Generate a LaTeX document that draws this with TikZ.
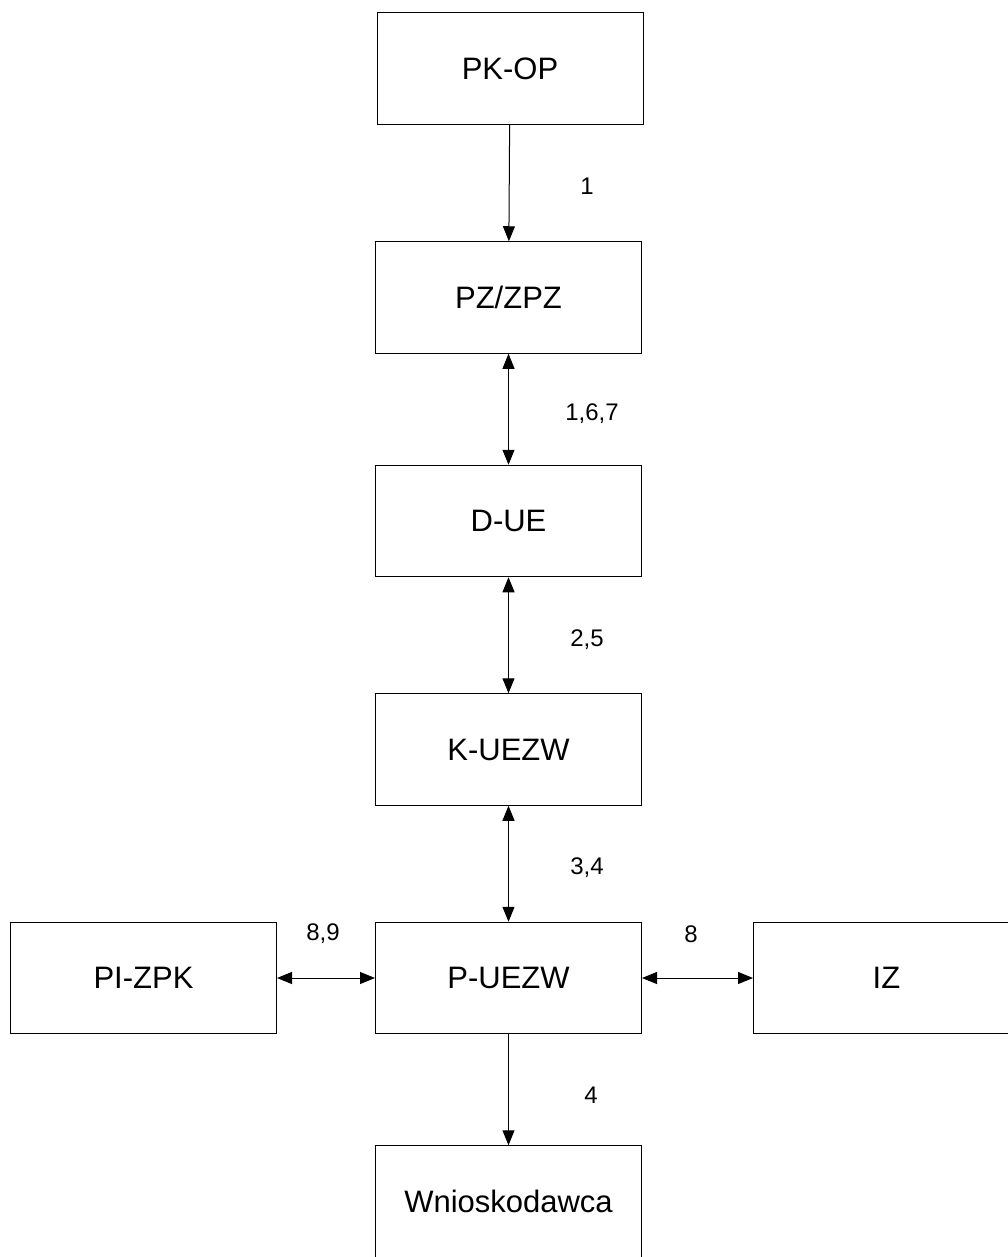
\documentclass[tikz,border=0pt]{standalone}
\usepackage{fontspec}
\setmainfont{Liberation Sans}
\usetikzlibrary{positioning,arrows.meta}

\begin{document}
\begin{tikzpicture}[x=0.5pt,y=-0.5pt,
    box/.style={draw, line width=0.5pt, minimum width=133pt, minimum height=55.75pt,
      inner sep=0pt, font=\fontsize{15.5}{18}\selectfont},
    lbl/.style={font=\fontsize{12}{14}\selectfont},
    link/.style={line width=0.5pt, -{Triangle[length=7.5pt,width=6pt]}},
    both/.style={line width=0.5pt, {Triangle[length=7.5pt,width=6pt]}-{Triangle[length=7.5pt,width=6pt]}}]

  \useasboundingbox (0,0) rectangle (1007,1257);

  \node[box]                          (pkop) at (510,68.5) {PK-OP};
  \node[box, below=58.25pt of pkop, xshift=-0.75pt] (pz) {PZ/ZPZ};
  \node[box, below=55.5pt of pz]      (due)  {D-UE};
  \node[box, below=58pt of due]       (kue)  {K-UEZW};
  \node[box, below=58pt of kue]       (pue)  {P-UEZW};
  \node[box, below=55.5pt of pue]     (wn)   {Wnioskodawca};
  \node[box, left=49pt of pue]        (pi)   {PI-ZPK};
  \node[box, right=55.5pt of pue]     (iz)   {IZ};

  \draw[link] (pkop) -- (pz);
  \draw[both] (pz)   -- (due);
  \draw[both] (due)  -- (kue);
  \draw[both] (kue)  -- (pue);
  \draw[both] (pi)   -- (pue);
  \draw[both] (pue)  -- (iz);
  \draw[link] (pue)  -- (wn);

  \node[lbl] (l1)  at (587,186)  {1};
  \node[lbl] (l2)  at (592,414)  {1,6,7};
  \node[lbl] (l3)  at (587,640)  {2,5};
  \node[lbl] (l4)  at (587,868)  {3,4};
  \node[lbl] (l5)  at (323,934)  {8,9};
  \node[lbl] (l6)  at (691,934)  {8};
  \node[lbl] (l7)  at (591,1095) {4};
\end{tikzpicture}
\end{document}
